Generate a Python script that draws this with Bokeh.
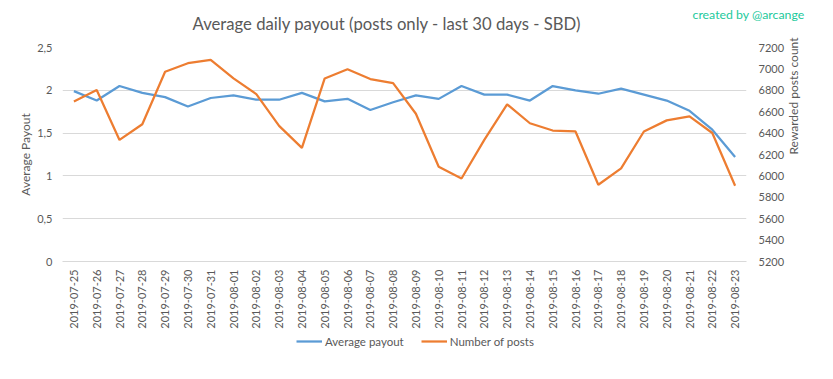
from bokeh.plotting import figure
from bokeh.models import (Range1d, LinearAxis, FactorRange, Legend, LegendItem,
                          FixedTicker, Title, ColumnDataSource)
from bokeh.layouts import column
from bokeh.embed import file_html
from bokeh.resources import INLINE
import math

dates = ["2019-07-25", "2019-07-26", "2019-07-27", "2019-07-28", "2019-07-29",
         "2019-07-30", "2019-07-31", "2019-08-01", "2019-08-02", "2019-08-03",
         "2019-08-04", "2019-08-05", "2019-08-06", "2019-08-07", "2019-08-08",
         "2019-08-09", "2019-08-10", "2019-08-11", "2019-08-12", "2019-08-13",
         "2019-08-14", "2019-08-15", "2019-08-16", "2019-08-17", "2019-08-18",
         "2019-08-19", "2019-08-20", "2019-08-21", "2019-08-22", "2019-08-23"]

avg_payout = [1.99, 1.88, 2.05, 1.97, 1.92, 1.81, 1.91, 1.94, 1.89, 1.89,
              1.97, 1.87, 1.90, 1.77, 1.86, 1.94, 1.90, 2.05, 1.95, 1.95,
              1.88, 2.05, 2.00, 1.96, 2.02, 1.95, 1.88, 1.76, 1.54, 1.22]

num_posts = [6696, 6802, 6336, 6483, 6973, 7053, 7085, 6911, 6764, 6468,
             6262, 6911, 6997, 6905, 6867, 6581, 6085, 5976, 6336, 6669,
             6492, 6424, 6415, 5917, 6070, 6415, 6519, 6557, 6401, 5908]

left_ticks = [0, 0.5, 1, 1.5, 2, 2.5]
left_tick_labels = ["0", "0,5", "1", "1,5", "2", "2,5"]
right_ticks = [5200, 5400, 5600, 5800, 6000, 6200, 6400, 6600, 6800, 7000, 7200]

FONT = "Lato"
GRAY = "#595959"
GRID = "#d9d9d9"
BLUE = "#5b9bd5"
ORANGE = "#ed7d31"

src = ColumnDataSource(dict(date=dates, payout=avg_payout, posts=num_posts))

p = figure(width=817, height=331, x_range=FactorRange(*dates),
           y_range=Range1d(0, 2.5), output_backend="svg", toolbar_location=None,
           min_border_left=62, min_border_right=71, min_border_top=47,
           min_border_bottom=68)
p.extra_y_ranges = {"posts": Range1d(5200, 7200)}
p.outline_line_color = None
p.xgrid.grid_line_color = None
p.ygrid.grid_line_color = GRID
p.ygrid.ticker = FixedTicker(ticks=left_ticks)

r1 = p.line("date", "payout", source=src, line_color=BLUE, line_width=2.25)
r2 = p.line("date", "posts", source=src, line_color=ORANGE, line_width=2.25,
            y_range_name="posts")

# left axis
ya = p.yaxis[0]
ya.ticker = FixedTicker(ticks=left_ticks)
ya.major_label_overrides = {t: l for t, l in zip(left_ticks, left_tick_labels)}
ya.axis_label = "Average Payout"
ya.axis_line_color = None
ya.major_tick_line_color = None
ya.minor_tick_line_color = None
ya.major_tick_out = 0
ya.major_label_standoff = 10
ya.axis_label_standoff = 1

# right axis
ra = LinearAxis(y_range_name="posts", ticker=FixedTicker(ticks=right_ticks),
                axis_label="Rewarded posts count")
ra.axis_line_color = None
ra.major_tick_line_color = None
ra.minor_tick_line_color = None
ra.major_tick_out = 0
ra.major_label_standoff = 12
ra.axis_label_standoff = 6
ra.axis_label_orientation = math.pi / 2
p.add_layout(ra, "right")

xa = p.xaxis[0]
xa.axis_line_color = GRID
xa.major_tick_line_color = None
xa.minor_tick_line_color = None
xa.major_tick_out = 0
xa.major_label_orientation = math.pi / 2
xa.major_label_standoff = 8

for ax in (ya, ra, xa):
    ax.major_label_text_font = FONT
    ax.major_label_text_font_size = "11px"
    ax.major_label_text_color = GRAY
    ax.axis_label_text_font = FONT
    ax.axis_label_text_font_size = "12px"
    ax.axis_label_text_font_style = "normal"
    ax.axis_label_text_color = GRAY

# main title (inner, nearest to the plot area)
main_title = Title(text="Average daily payout (posts only - last 30 days - SBD)",
                   align="left", offset=130, text_font=FONT,
                   text_font_size="16.7px", text_font_style="normal",
                   text_color=GRAY, standoff=24, vertical_align="top")
p.add_layout(main_title, "above")

# credit (outer title, pulled down into the title band)
p.title.text = "created by @arcange"
p.title.align = "right"
p.title.offset = -58
p.title.text_font = FONT
p.title.text_font_size = "12.3px"
p.title.text_font_style = "normal"
p.title.text_color = "#22c99b"
p.title.standoff = -41

# legend strip below the chart
lg = figure(width=817, height=32, output_backend="svg", toolbar_location=None,
            min_border=0, x_axis_type=None, y_axis_type=None,
            x_range=FactorRange(*dates), y_range=Range1d(10000, 10001))
lg.outline_line_color = None
lg.grid.grid_line_color = None
g1 = lg.line("date", "payout", source=src, line_color=BLUE, line_width=2.25)
g2 = lg.line("date", "posts", source=src, line_color=ORANGE, line_width=2.25)
legend = Legend(items=[LegendItem(label="Average payout", renderers=[g1]),
                       LegendItem(label="Number of posts", renderers=[g2])],
                orientation="horizontal", location=(234, 15),
                border_line_color=None, background_fill_alpha=0,
                label_text_font=FONT, label_text_font_size="11.5px",
                label_text_color=GRAY, glyph_width=26, glyph_height=14,
                label_height=14, spacing=17, padding=0, margin=0,
                label_standoff=3)
lg.add_layout(legend)

layout = column(p, lg, spacing=0)

open("out.html", "w").write(file_html(layout, INLINE))
